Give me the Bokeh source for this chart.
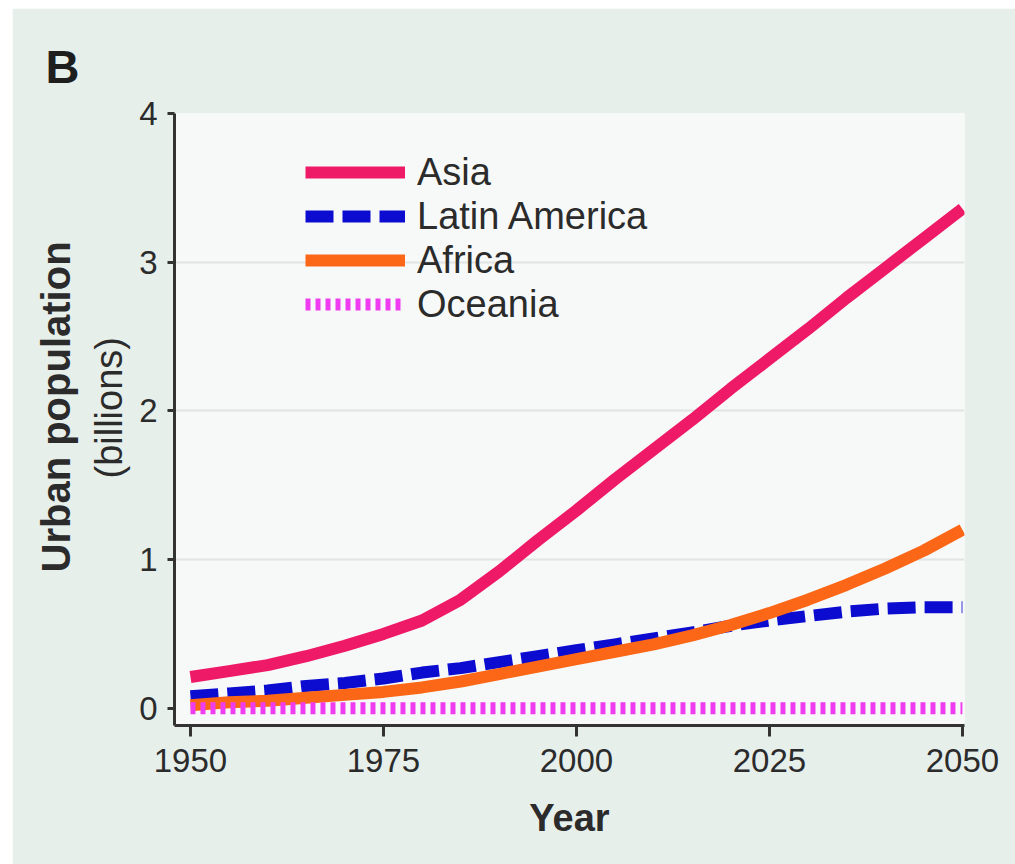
from bokeh.plotting import figure
from bokeh.models import Range1d, Legend, LegendItem, FixedTicker, Title
from bokeh.embed import file_html
from bokeh.resources import INLINE

years = [1950, 1955, 1960, 1965, 1970, 1975, 1980, 1985, 1990, 1995, 2000,
         2005, 2010, 2015, 2020, 2025, 2030, 2035, 2040, 2045, 2050]
asia = [0.21, 0.25, 0.29, 0.35, 0.42, 0.50, 0.59, 0.73, 0.92, 1.13, 1.33,
        1.54, 1.74, 1.94, 2.15, 2.35, 2.55, 2.76, 2.96, 3.16, 3.36]
latin_america = [0.08, 0.10, 0.12, 0.15, 0.17, 0.20, 0.24, 0.27, 0.31, 0.35, 0.39,
                 0.43, 0.47, 0.51, 0.555, 0.59, 0.62, 0.65, 0.67, 0.68, 0.68]
africa = [0.02, 0.04, 0.05, 0.07, 0.09, 0.11, 0.14, 0.18, 0.23, 0.28, 0.33,
          0.38, 0.43, 0.49, 0.56, 0.64, 0.73, 0.83, 0.94, 1.06, 1.20]
oceania = [0.00, 0.00, 0.00, 0.00, 0.00, 0.00, 0.00, 0.00, 0.00, 0.00, 0.00,
           0.00, 0.00, 0.00, 0.00, 0.00, 0.00, 0.00, 0.00, 0.00, 0.00]

x_ticks = [1950, 1975, 2000, 2025, 2050]
y_ticks = [0, 1, 2, 3, 4]
grid_levels = [1, 2, 3]
series_names = ["Asia", "Latin America", "Africa", "Oceania"]

FONT = "Liberation Sans"
TXT = "#2b2b2b"
W, H = 1003, 856

p = figure(width=W, height=H,
           x_range=Range1d(1947.93, 2050.27), y_range=Range1d(-0.116, 4.0),
           output_backend="svg", toolbar_location=None,
           min_border_left=162, min_border_right=51,
           min_border_top=105, min_border_bottom=139)
p.margin = (8, 0, 0, 12)

p.border_fill_color = "#e7efeb"
p.background_fill_color = "#f7f9f8"
p.outline_line_color = None

# panel letter
p.title = Title(text="B", align="left", offset=-129, standoff=42,
                text_font=FONT, text_font_style="bold",
                text_font_size="47px", text_color="#1e1e1e")

p.xgrid.visible = False
p.ygrid.ticker = FixedTicker(ticks=grid_levels)
p.ygrid.grid_line_color = "#e0e4e2"
p.ygrid.grid_line_width = 2

for ax in (p.xaxis[0], p.yaxis[0]):
    ax.axis_line_color = "#333333"
    ax.axis_line_width = 3
    ax.major_tick_line_color = "#333333"
    ax.major_tick_line_width = 3
    ax.major_tick_in = 0
    ax.minor_tick_line_color = None
    ax.major_label_text_font = FONT
    ax.major_label_text_font_size = "33px"
    ax.major_label_text_color = TXT

p.xaxis.ticker = FixedTicker(ticks=x_ticks)
p.yaxis.ticker = FixedTicker(ticks=y_ticks)
p.xaxis.major_tick_out = 11
p.yaxis.major_tick_out = 7
p.xaxis.major_label_standoff = 12
p.yaxis.major_label_standoff = 10

p.xaxis.axis_label = "Year"
p.xaxis.axis_label_text_font = FONT
p.xaxis.axis_label_text_font_style = "bold"
p.xaxis.axis_label_text_font_size = "38px"
p.xaxis.axis_label_text_color = TXT
p.xaxis.axis_label_standoff = 22

# y-axis title: two lines, regular one nearer to the axis
p.add_layout(Title(text="(billions)", align="left", offset=247, standoff=14,
                   text_font=FONT, text_font_style="normal",
                   text_font_size="38px", text_color=TXT), "left")
p.add_layout(Title(text="Urban population", align="left", offset=153, standoff=2,
                   text_font=FONT, text_font_style="bold",
                   text_font_size="40px", text_color=TXT), "left")

r_asia = p.line(years, asia, line_color="#ef1a67", line_width=12, line_join="round")
r_la = p.line(years, latin_america, line_color="#0c0cd0", line_width=12,
              line_dash="28 9", line_join="round")
r_af = p.line(years, africa, line_color="#fb6716", line_width=12, line_join="round")
r_oc = p.line(years, oceania, line_color="#f03cf0", line_width=12, line_dash="5 5")

legend = Legend(items=[LegendItem(label=series_names[0], renderers=[r_asia]),
                       LegendItem(label=series_names[1], renderers=[r_la]),
                       LegendItem(label=series_names[2], renderers=[r_af]),
                       LegendItem(label=series_names[3], renderers=[r_oc])],
                location=(131, 399), glyph_width=100, glyph_height=44,
                label_height=44, spacing=0, padding=0, margin=0,
                label_standoff=12, label_text_font=FONT,
                label_text_font_size="38px", label_text_color=TXT,
                background_fill_alpha=0, border_line_color=None)
p.add_layout(legend)

open("out.html", "w").write(file_html(p, INLINE))
